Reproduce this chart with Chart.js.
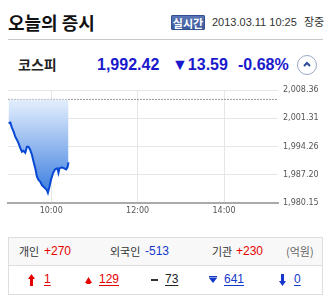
<!DOCTYPE html>
<html>
<head>
<meta charset="utf-8">
<script src="https://cdn.jsdelivr.net/npm/chart.js@4.4.0/dist/chart.umd.min.js"></script>
<style>
  html,body{margin:0;padding:0;background:#fff;}
  body{width:329px;height:301px;position:relative;overflow:hidden;font-family:"Liberation Sans",Arial,sans-serif;}
  .a{position:absolute;white-space:nowrap;}
  .kr{font-family:"Noto Sans CJK KR",sans-serif;}
  .num{font-family:"Liberation Sans",Arial,sans-serif;}
  u{text-underline-offset:2px;}
  svg{display:block;}
</style>
</head>
<body>
<script>
// ---- data ----
const titleText = "오늘의 증시";
const badgeText = "실시간";
const dateText = "2013.03.11 10:25";
const statusText = "장중";
const indexName = "코스피";
const indexValue = "1,992.42";
const indexChange = "▼13.59";
const indexPct = "-0.68%";

const prevClose = 2006.01;
const timeMinutes = [0.8,3.2,5.5,7.8,10.1,12.5,14.7,17,19.4,21.6,24,26.3,28.5,30.9,33.3,35.5,37.8,40.2,42.4,44.8,47.1,49.3,51.7,54,55.4,57.6,59.6,62.4,65.5,68.7,70.1,71.5,74.8,78,80.8,82.6,84];
const kospiValues = [2000.07,2000.22,1998.9,1997.95,1996.7,1995.9,1995.05,1993.9,1992.95,1993.2,1992.7,1994.2,1994.2,1993.4,1992.15,1990.45,1988.9,1986.7,1985.9,1985.45,1984.6,1984.2,1983.8,1983.35,1982.7,1984.2,1985.9,1987.55,1988.55,1988.8,1987.7,1988.8,1989.05,1988.8,1988.55,1989.05,1990.3];
const xTickValues = [60,180,300];
const xTickLabels = ["10:00","12:00","14:00"];
const yTickValues = [1980.15,1987.20,1994.26,2001.31,2008.36];
const yTickLabels = ["1,980.15","1,987.20","1,994.26","2,001.31","2,008.36"];

const investorNames = ["개인","외국인","기관"];
const investorValues = ["+270","-513","+230"];
const unitText = "(억원)";
const breadthCounts = ["1","129","73","641","0"];
</script>

<div class="a kr" id="title" style="left:8px;top:8px;font-size:18px;font-weight:bold;line-height:28px;color:#111;"></div>
<div class="a kr" id="badge" style="left:171px;top:15px;width:34px;height:15px;line-height:15px;text-align:center;font-size:11px;font-weight:bold;color:#fff;background:linear-gradient(#5a76b6,#3b5a9e);border:1px solid #34518f;box-sizing:border-box;border-radius:1px;"></div>
<div class="a num" id="date" style="left:212px;top:15px;font-size:11px;line-height:15px;color:#333;"></div>
<div class="a kr" id="status" style="left:304px;top:14px;font-size:11px;line-height:15px;color:#333;"></div>
<div class="a" style="left:8px;top:39px;width:315px;height:1px;background:#c8c8c8;"></div>

<div class="a kr" id="iname" style="left:18px;top:54px;font-size:14px;font-weight:bold;line-height:20px;color:#222;"></div>
<div class="a num" id="ival" style="left:97px;top:55px;font-size:16px;font-weight:bold;line-height:20px;color:#1a1acc;"></div>
<div class="a num" id="ichg" style="left:172px;top:55px;font-size:16px;font-weight:bold;line-height:20px;color:#1a1acc;"></div>
<div class="a num" id="ipct" style="left:238px;top:55px;font-size:16px;font-weight:bold;line-height:20px;color:#1a1acc;"></div>
<div class="a" style="left:297px;top:55px;width:20px;height:20px;border:1px solid #9aa9c8;border-radius:50%;box-sizing:border-box;">
  <svg width="18" height="18" style="position:absolute;left:0;top:0"><polyline points="6,10 9,7 12,10" fill="none" stroke="#2d4b9a" stroke-width="2"/></svg>
</div>

<canvas id="c" width="329" height="140" style="position:absolute;left:0;top:80px;width:329px;height:140px;"></canvas>

<div class="a" style="left:8px;top:237px;width:315px;height:58px;border:1px solid #dedede;box-sizing:border-box;"></div>
<div class="a" style="left:9px;top:238px;width:313px;height:27px;background:#f8f8f8;border-bottom:1px solid #dedede;"></div>
<div id="row1"></div>
<div id="row2"></div>

<script>
document.getElementById('title').textContent = titleText;
document.getElementById('badge').textContent = badgeText;
document.getElementById('date').textContent = dateText;
document.getElementById('status').textContent = statusText;
document.getElementById('iname').textContent = indexName;
document.getElementById('ival').textContent = indexValue;
document.getElementById('ichg').textContent = indexChange;
document.getElementById('ipct').textContent = indexPct;

// row 1
const r1 = document.getElementById('row1');
const nameX = [19,110,212], valX = [44,145,236];
const valCol = v => v.startsWith('-') ? '#1538cc' : '#e60000';
investorNames.forEach((n,i)=>{
  const d = document.createElement('div'); d.className='a kr';
  d.style.cssText = `left:${nameX[i]}px;top:242px;font-size:11px;line-height:18px;color:#333;`;
  d.textContent = n; r1.appendChild(d);
  const v = document.createElement('div'); v.className='a num';
  v.style.cssText = `left:${valX[i]}px;top:242px;font-size:12px;line-height:18px;color:${valCol(investorValues[i])};`;
  v.textContent = investorValues[i]; r1.appendChild(v);
});
const u = document.createElement('div'); u.className='a kr';
u.style.cssText='left:286px;top:242px;font-size:11px;line-height:18px;color:#666;';
u.textContent = unitText; r1.appendChild(u);

// row 2 icons + counts
const r2 = document.getElementById('row2');
const icons = [
  {x:28, svg:'<polygon points="3.5,0 7,5 5,5 5,12 2,12 2,5 0,5" fill="#e60000"/>', w:7,h:12,top:274},
  {x:85, svg:'<polygon points="3.5,0 7,6 0,6" fill="#e60000"/><rect x="1.5" y="6" width="4" height="1" fill="#e60000"/>', w:7,h:7,top:277},
  {x:151, svg:'<rect x="0" y="0" width="7" height="2" fill="#333"/>', w:7,h:2,top:279},
  {x:209, svg:'<rect x="0" y="0" width="8" height="1.5" fill="#1538cc"/><polygon points="0,2 8,2 4,7" fill="#1538cc"/>', w:8,h:7,top:276},
  {x:279, svg:'<polygon points="2,0 5,0 5,7 7,7 3.5,12 0,7 2,7" fill="#1538cc"/>', w:7,h:12,top:274}
];
const cntX = [44,99,165,224,294];
const cntCol = ['#e60000','#e60000','#222','#1538cc','#1538cc'];
icons.forEach((ic,i)=>{
  const s = document.createElement('div'); s.className='a';
  s.style.cssText = `left:${ic.x}px;top:${ic.top}px;width:${ic.w}px;height:${ic.h}px;`;
  s.innerHTML = `<svg width="${ic.w}" height="${ic.h}">${ic.svg}</svg>`;
  r2.appendChild(s);
  const c = document.createElement('div'); c.className='a num';
  c.style.cssText = `left:${cntX[i]}px;top:270px;font-size:12px;line-height:18px;color:${cntCol[i]};`;
  c.innerHTML = `<u>${breadthCounts[i]}</u>`;
  r2.appendChild(c);
});

// chart
const tickFont = {family:'"DejaVu Sans", sans-serif', size:8};
new Chart(document.getElementById('c'), {
  type:'line',
  data:{
    datasets:[
      {
        data: timeMinutes.map((t,i)=>({x:t,y:kospiValues[i]})),
        borderColor:'#0848d4',
        borderWidth:2,
        pointRadius:0,
        tension:0,
        fill:{value:prevClose},
        backgroundColor:(ctx)=>{
          const ch = ctx.chart; const a = ch.chartArea;
          if(!a) return 'rgba(80,140,230,0.5)';
          const g = ch.ctx.createLinearGradient(0,a.top,0,a.bottom);
          g.addColorStop(0,'#eef5fe');
          g.addColorStop(0.15,'#d8e7fb');
          g.addColorStop(1,'#2a72dc');
          return g;
        }
      },
      {
        data:[{x:0,y:prevClose},{x:375,y:prevClose}],
        borderColor:'#999',
        borderWidth:1,
        borderDash:[2,1],
        pointRadius:0,
        fill:false
      }
    ]
  },
  options:{
    responsive:false,
    animation:false,
    devicePixelRatio:1,
    layout:{padding:{left:8,top:10,right:0,bottom:0}},
    plugins:{legend:{display:false},tooltip:{enabled:false}},
    events:[],
    scales:{
      x:{
        type:'linear', min:0, max:375,
        afterBuildTicks:(ax)=>{ax.ticks = xTickValues.map(v=>({value:v}));},
        afterFit:(ax)=>{ax.height = 17;},
        ticks:{
          callback:(v)=>xTickLabels[xTickValues.indexOf(v)],
          font:tickFont, color:'#555', padding:3, maxRotation:0, autoSkip:false
        },
        grid:{color:'#e6e6e6', drawTicks:false, lineWidth:1},
        border:{display:true, color:'#aaa', width:2}
      },
      y:{
        position:'right', min:1980.15, max:2008.36,
        afterBuildTicks:(ax)=>{ax.ticks = yTickValues.map(v=>({value:v}));},
        afterFit:(ax)=>{ax.width = 51;},
        ticks:{
          callback:(v)=>yTickLabels[yTickValues.indexOf(v)],
          font:tickFont, color:'#555', padding:5, crossAlign:'near'
        },
        grid:{color:'#e6e6e6', drawTicks:false},
        border:{display:false}
      }
    }
  }
});
</script>
</body>
</html>
